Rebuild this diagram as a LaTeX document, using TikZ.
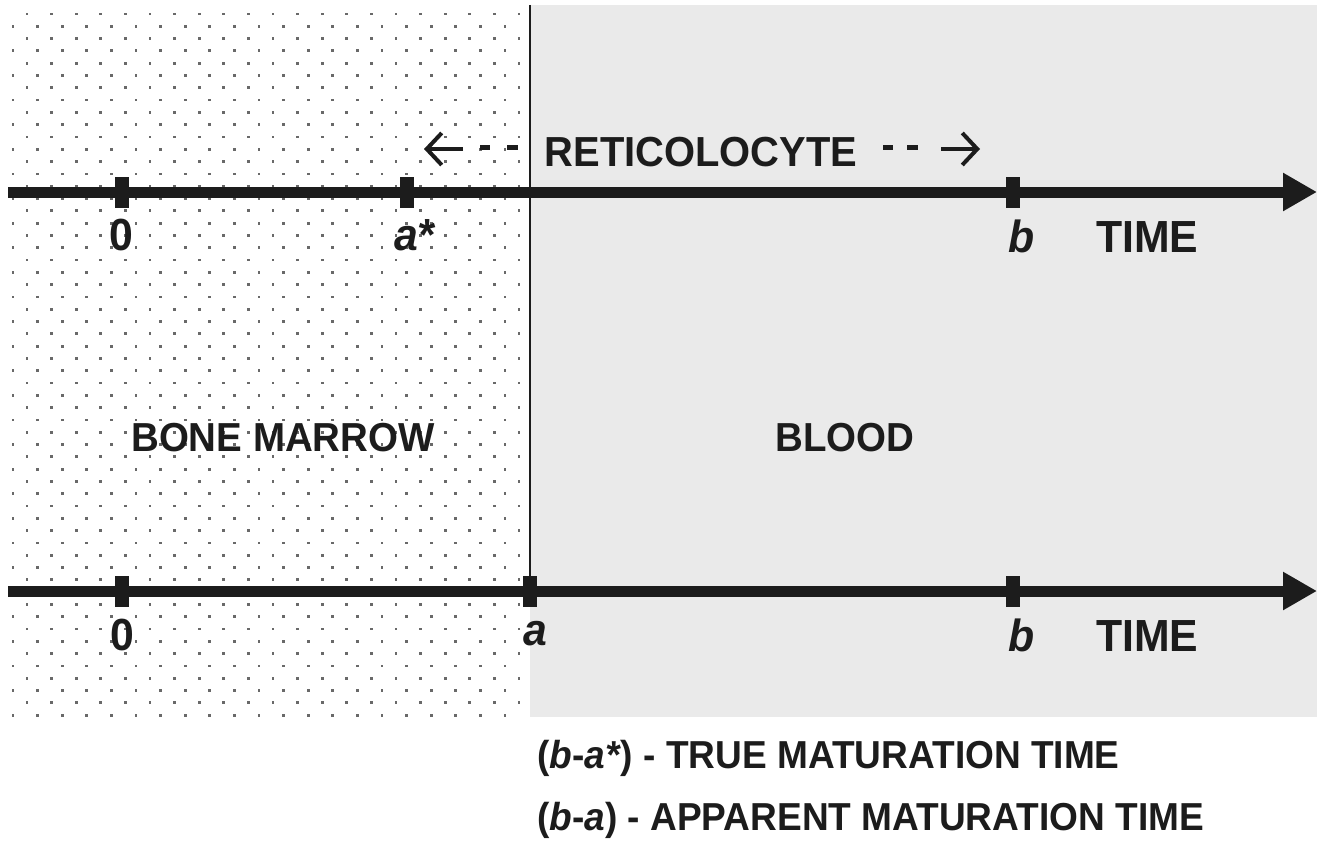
\documentclass[tikz,border=0pt]{standalone}
\usepackage{fontspec}
\setmainfont{Liberation Sans}[FakeStretch=0.95]
\usetikzlibrary{arrows.meta}
\definecolor{bloodgray}{RGB}{234,234,234}
\definecolor{ink}{RGB}{28,28,28}
\definecolor{dotgray}{RGB}{105,105,105}
\begin{document}
\begin{tikzpicture}[x=1pt,y=-1pt,
  axisline/.style={line width=11pt, draw=ink, -{Triangle[length=34pt,width=36pt]}},
  tickbox/.style={fill=ink, minimum width=14pt, minimum height=31pt, inner sep=0pt, outer sep=0pt},
  axlabel/.style={font=\fontsize{45}{50}\selectfont\bfseries, text=ink, inner sep=0pt},
  regionlabel/.style={font=\fontsize{40.5}{45}\selectfont\bfseries, text=ink, inner sep=0pt},
  retlabel/.style={font=\fontsize{42}{46}\selectfont\bfseries, text=ink, inner sep=0pt},
  legendlabel/.style={font=\fontsize{39}{44}\selectfont\bfseries, text=ink, inner sep=0pt, anchor=base west},
  dashbar/.style={line width=5pt, draw=ink},
  retarrow/.style={line width=4pt, draw=ink, -{Straight Barb[length=15pt,width=32pt,line width=4pt]}},
  divider/.style={line width=1.5pt, draw=ink}]
\useasboundingbox (0,0) rectangle (1324,840);
\fill[white] (0,0) rectangle (1324,840);
% blood region
\fill[bloodgray] (530,5) rectangle (1317,717);
% bone marrow dots
\foreach \i in {0,...,57}{
  \pgfmathsetmacro\yy{14+12.3*\i}
  \pgfmathsetmacro\xo{mod(\i,2)==0 ? 27 : 13}
  \foreach \j in {0,...,20}{
    \fill[dotgray] ({\xo+24.6*\j-1.4},{\yy-1.4}) rectangle ++(2.8,2.8);
  }
}
% divider
\coordinate (divtop) at (530,5);
\coordinate (divbot) at (530,591);
\draw[divider] (divtop) -- (divbot);
% upper axis
\coordinate (ustart) at (8,192);
\coordinate (uend) at (1317,192);
\draw[axisline] (ustart) -- (uend);
\node[tickbox] (ut0) at (122,192) {};
\node[tickbox] (uta) at (407,192) {};
\node[tickbox] (utb) at (1013,192) {};
\node[axlabel, anchor=base] (ul0) at (121,250) {0};
\node[axlabel, anchor=base west] (ula) at (394,250) {\itshape a*};
\node[axlabel, anchor=base] (ulb) at (1022,252) {\itshape b};
\node[axlabel, anchor=base west] (ultime) at (1096,252) {TIME};
% reticulocyte
\node[retlabel, anchor=base] (ret) at (701,166) {RETICOLOCYTE};
\coordinate (lash) at (463,149);
\coordinate (latip) at (424,149);
\draw[retarrow] (lash) -- (latip);
\draw[dashbar] (480,147) -- (490,147);
\draw[dashbar] (507,147) -- (518,147);
\draw[dashbar] (883,147) -- (893,147);
\draw[dashbar] (907,147) -- (918,147);
\coordinate (rash) at (941,149);
\coordinate (ratip) at (980,149);
\draw[retarrow] (rash) -- (ratip);
% region labels
\node[regionlabel, anchor=base] (bm) at (283,451) {BONE MARROW};
\node[regionlabel, anchor=base] (bl) at (845,451) {BLOOD};
% lower axis
\coordinate (lstart) at (8,591);
\coordinate (lend) at (1317,591);
\draw[axisline] (lstart) -- (lend);
\node[tickbox] (lt0) at (122,591) {};
\node[tickbox] (lta) at (530,591) {};
\node[tickbox] (ltb) at (1013,591) {};
\node[axlabel, anchor=base] (ll0) at (122,650) {0};
\node[axlabel, anchor=base] (lla) at (535,645) {\itshape a};
\node[axlabel, anchor=base] (llb) at (1022,651) {\itshape b};
\node[axlabel, anchor=base west] (lltime) at (1096,651) {TIME};
% legend
\node[legendlabel] (leg1) at (537,768) {(\textit{b}-\textit{a*}) - TRUE MATURATION TIME};
\node[legendlabel] (leg2) at (537,830) {(\textit{b}-\textit{a}) - APPARENT MATURATION TIME};
\end{tikzpicture}
\end{document}
